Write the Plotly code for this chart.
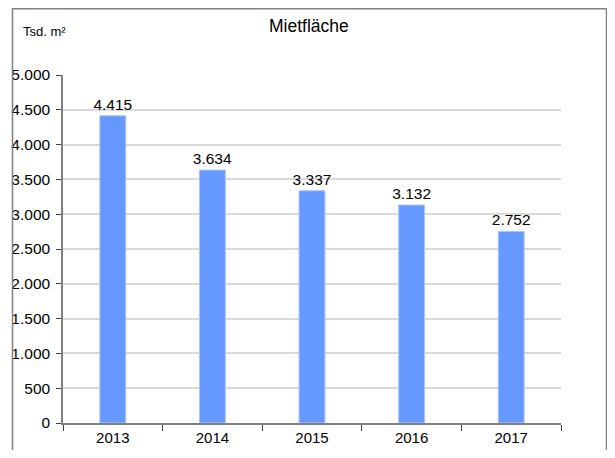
import plotly.graph_objects as go

years = ["2013", "2014", "2015", "2016", "2017"]
values = [4415, 3634, 3337, 3132, 2752]
labels = ["4.415", "3.634", "3.337", "3.132", "2.752"]
ytick_vals = [0, 500, 1000, 1500, 2000, 2500, 3000, 3500, 4000, 4500, 5000]
ytick_text = ["0", "500", "1.000", "1.500", "2.000", "2.500", "3.000", "3.500", "4.000", "4.500", "5.000"]

# page has an 8px body margin; figure is placed at (8, 8)
OFF = 8
W, H = 599, 442
L, T = 63 - OFF, 75 - OFF
R = W - (561 - OFF)
B = H - (423 - OFF)
pw, ph = W - L - R, H - T - B

def px(x):
    return (x - OFF - L) / pw

def py(y):
    return (H - B - (y - OFF)) / ph

font = "Liberation Sans, Arial, sans-serif"

fig = go.Figure(go.Bar(
    x=years, y=values, text=labels, textposition="outside",
    textfont=dict(size=15.5, color="black", family=font),
    constraintext="none",
    marker=dict(color="#6699FF", line=dict(color="#A9C4FF", width=1)),
    width=0.26, cliponaxis=False,
))

fig.update_layout(
    width=W, height=H, margin=dict(l=L, r=R, t=T, b=B, autoexpand=False),
    paper_bgcolor="white", plot_bgcolor="white", showlegend=False,
    font=dict(family=font, size=15, color="black"),
    xaxis=dict(type="category", showline=True, linecolor="#808080", linewidth=1.5,
               ticks="outside", tickson="boundaries", ticklen=6, tickcolor="#404040",
               tickfont=dict(size=15), showgrid=False, range=[-0.5, 4.5], automargin=False),
    yaxis=dict(range=[0, 5000], tickvals=ytick_vals, ticktext=ytick_text,
               showline=True, linecolor="#808080", linewidth=1.5,
               ticks="outside", ticklen=5, tickcolor="#404040",
               showgrid=True, gridcolor="#D9D9D9", gridwidth=1.5,
               tickfont=dict(size=15.5), zeroline=False, automargin=False,
               ticklabelstandoff=3),
    annotations=[
        dict(text="Mietfläche", x=px(308.5), y=py(26), xref="paper", yref="paper",
             showarrow=False, font=dict(size=17.5), xanchor="center", yanchor="middle"),
        dict(text="Tsd. m²", x=px(21), y=py(31), xref="paper", yref="paper",
             showarrow=False, font=dict(size=13), xanchor="left", yanchor="middle"),
    ],
    shapes=[
        dict(type="line", xref="paper", yref="paper", x0=px(12.5), x1=px(12.5), y0=py(8.75), y1=py(470),
             line=dict(color="#808080", width=1.5)),
        dict(type="line", xref="paper", yref="paper", x0=px(12), x1=px(606.5), y0=py(8.75), y1=py(8.75),
             line=dict(color="#808080", width=1.5)),
        dict(type="line", xref="paper", yref="paper", x0=px(606.5), x1=px(606.5), y0=py(8.75), y1=py(470),
             line=dict(color="#808080", width=1.5)),
    ],
)

fig.write_html("out.html")
